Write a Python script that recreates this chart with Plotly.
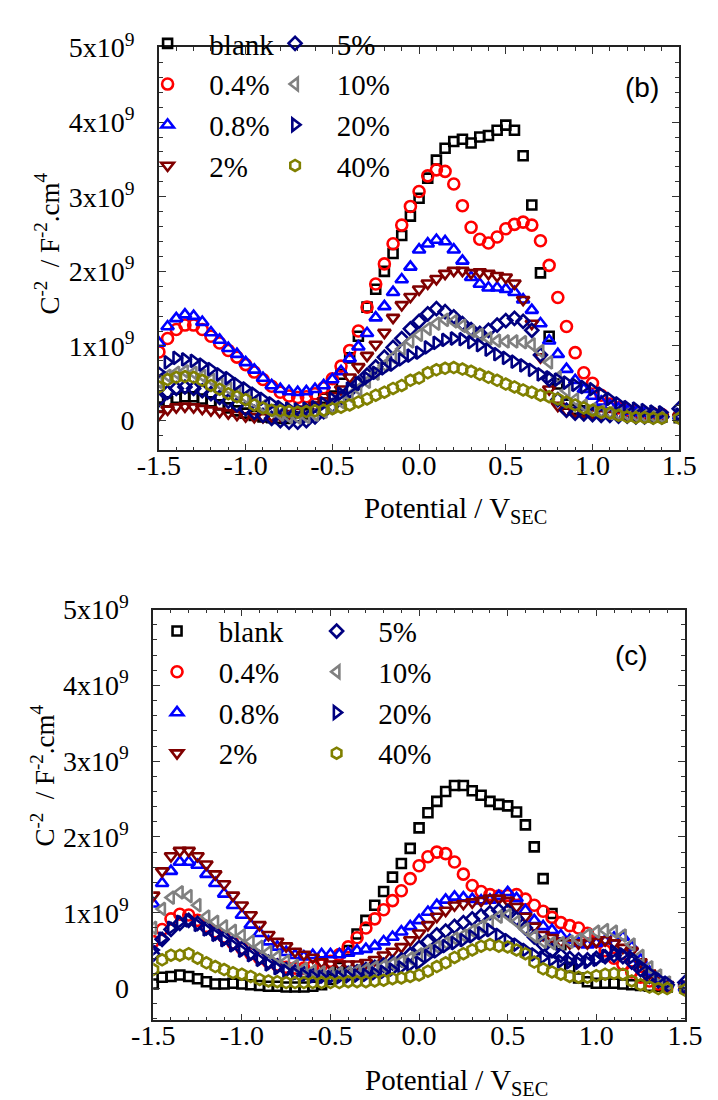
import plotly.graph_objects as go

# Sampling potentials (V vs SCE)
potential = [-1.5, -1.45, -1.4, -1.35, -1.3, -1.25, -1.2, -1.15, -1.1, -1.05,
             -1.0, -0.95, -0.9, -0.85, -0.8, -0.75, -0.7, -0.65, -0.6, -0.55,
             -0.5, -0.45, -0.4, -0.35, -0.3, -0.25, -0.2, -0.15, -0.1, -0.05,
             0.0, 0.05, 0.1, 0.15, 0.2, 0.25, 0.3, 0.35, 0.4, 0.45,
             0.5, 0.55, 0.6, 0.65, 0.7, 0.75, 0.8, 0.85, 0.9, 0.95,
             1.0, 1.05, 1.1, 1.15, 1.2, 1.25, 1.3, 1.35, 1.4, 1.5]

labels = ["blank", "0.4%", "0.8%", "2%", "5%", "10%", "20%", "40%"]

# ---- panel (b): C^-2 in units of 1e9 F^-2 cm^4 ----
b_blank = [0.18, 0.25, 0.30, 0.32, 0.32, 0.29, 0.25, 0.21, 0.17, 0.13,
           0.10, 0.07, 0.05, 0.04, 0.03, 0.03, 0.05, 0.09, 0.18, 0.30,
           0.45, 0.62, 0.84, 1.13, 1.52, 1.76, 2.00, 2.24, 2.48, 2.74,
           2.98, 3.25, 3.49, 3.65, 3.74, 3.77, 3.72, 3.80, 3.82, 3.89,
           3.96, 3.89, 3.55, 2.89, 1.98, 1.13, 0.49, 0.22, 0.15, 0.13,
           0.12, 0.11, 0.10, 0.09, 0.08, 0.07, 0.06, 0.05, 0.05, 0.04]
b_04 = [0.92, 1.10, 1.22, 1.28, 1.28, 1.22, 1.13, 1.04, 0.94, 0.85,
        0.75, 0.65, 0.55, 0.46, 0.38, 0.33, 0.31, 0.32, 0.36, 0.44,
        0.56, 0.73, 0.94, 1.20, 1.52, 1.83, 2.10, 2.37, 2.62, 2.87,
        3.07, 3.28, 3.36, 3.34, 3.17, 2.88, 2.59, 2.43, 2.38, 2.46,
        2.57, 2.63, 2.66, 2.62, 2.41, 2.08, 1.65, 1.26, 0.91, 0.64,
        0.50, 0.34, 0.22, 0.17, 0.14, 0.12, 0.10, 0.09, 0.08, 0.06]
b_08 = [1.04, 1.26, 1.37, 1.42, 1.40, 1.32, 1.18, 1.08, 0.97, 0.89,
        0.78, 0.68, 0.57, 0.47, 0.42, 0.39, 0.38, 0.39, 0.42, 0.47,
        0.55, 0.66, 0.83, 0.99, 1.17, 1.38, 1.53, 1.72, 1.89, 2.06,
        2.29, 2.37, 2.42, 2.40, 2.29, 2.14, 1.92, 1.83, 1.78, 1.78,
        1.76, 1.72, 1.62, 1.48, 1.30, 1.07, 0.89, 0.69, 0.54, 0.42,
        0.33, 0.25, 0.20, 0.16, 0.13, 0.11, 0.10, 0.09, 0.08, 0.06]
b_2 = [0.08, 0.15, 0.18, 0.19, 0.18, 0.16, 0.14, 0.12, 0.10, 0.08,
       0.06, 0.05, 0.05, 0.06, 0.07, 0.09, 0.12, 0.15, 0.20, 0.26,
       0.33, 0.42, 0.58, 0.72, 0.87, 1.02, 1.18, 1.38, 1.55, 1.66,
       1.76, 1.84, 1.90, 1.97, 2.01, 2.01, 1.98, 1.99, 1.97, 1.94,
       1.92, 1.84, 1.62, 1.30, 0.85, 0.42, 0.20, 0.13, 0.12, 0.11,
       0.10, 0.09, 0.08, 0.08, 0.07, 0.07, 0.06, 0.06, 0.05, 0.05]
b_5 = [0.28, 0.38, 0.43, 0.45, 0.43, 0.40, 0.36, 0.31, 0.26, 0.21,
       0.16, 0.11, 0.07, 0.03, 0.00, -0.02, -0.02, 0.00, 0.05, 0.12,
       0.20, 0.30, 0.40, 0.50, 0.61, 0.72, 0.85, 0.98, 1.10, 1.23,
       1.33, 1.43, 1.50, 1.46, 1.39, 1.30, 1.22, 1.17, 1.21, 1.28,
       1.34, 1.37, 1.33, 1.21, 0.88, 0.55, 0.28, 0.14, 0.10, 0.09,
       0.08, 0.07, 0.07, 0.06, 0.06, 0.05, 0.05, 0.05, 0.05, 0.16]
b_10 = [0.52, 0.60, 0.64, 0.66, 0.64, 0.60, 0.55, 0.49, 0.43, 0.37,
        0.31, 0.25, 0.19, 0.13, 0.08, 0.05, 0.04, 0.05, 0.08, 0.12,
        0.18, 0.25, 0.33, 0.42, 0.52, 0.63, 0.74, 0.85, 0.96, 1.06,
        1.15, 1.23, 1.30, 1.35, 1.33, 1.27, 1.20, 1.15, 1.10, 1.07,
        1.06, 1.06, 1.05, 1.02, 0.93, 0.78, 0.58, 0.40, 0.28, 0.20,
        0.15, 0.12, 0.10, 0.09, 0.08, 0.07, 0.06, 0.06, 0.05, 0.05]
b_20 = [0.65, 0.78, 0.84, 0.82, 0.80, 0.75, 0.69, 0.62, 0.57, 0.49,
        0.43, 0.36, 0.29, 0.23, 0.18, 0.16, 0.15, 0.16, 0.18, 0.23,
        0.29, 0.36, 0.43, 0.50, 0.57, 0.64, 0.70, 0.75, 0.82, 0.87,
        0.91, 0.98, 1.04, 1.08, 1.10, 1.09, 1.05, 1.01, 0.95, 0.89,
        0.84, 0.79, 0.74, 0.68, 0.62, 0.58, 0.55, 0.51, 0.48, 0.45,
        0.42, 0.36, 0.29, 0.23, 0.18, 0.16, 0.14, 0.12, 0.11, 0.08]
b_40 = [0.45, 0.55, 0.58, 0.59, 0.58, 0.54, 0.47, 0.42, 0.36, 0.32,
        0.28, 0.21, 0.17, 0.14, 0.13, 0.12, 0.11, 0.12, 0.13, 0.14,
        0.16, 0.18, 0.21, 0.25, 0.29, 0.34, 0.38, 0.43, 0.47, 0.54,
        0.57, 0.64, 0.68, 0.70, 0.71, 0.69, 0.66, 0.62, 0.58, 0.54,
        0.49, 0.45, 0.41, 0.38, 0.34, 0.32, 0.29, 0.25, 0.21, 0.17,
        0.14, 0.11, 0.10, 0.07, 0.05, 0.04, 0.04, 0.03, 0.03, 0.03]

# ---- panel (c) ----
c_blank = [0.06, 0.15, 0.16, 0.18, 0.16, 0.13, 0.09, 0.06, 0.06, 0.07,
           0.06, 0.05, 0.04, 0.03, 0.03, 0.02, 0.02, 0.02, 0.03, 0.05,
           0.12, 0.28, 0.50, 0.72, 0.90, 1.10, 1.28, 1.47, 1.65, 1.85,
           2.12, 2.32, 2.47, 2.60, 2.68, 2.68, 2.61, 2.55, 2.47, 2.43,
           2.41, 2.33, 2.16, 1.87, 1.45, 0.99, 0.58, 0.28, 0.14, 0.09,
           0.07, 0.07, 0.07, 0.06, 0.05, 0.04, 0.03, 0.03, 0.02, 0.02]
c_04 = [0.62, 0.78, 0.92, 0.98, 0.97, 0.90, 0.82, 0.75, 0.68, 0.60,
        0.53, 0.46, 0.40, 0.35, 0.31, 0.28, 0.27, 0.27, 0.29, 0.31,
        0.36, 0.45, 0.55, 0.67, 0.80, 0.92, 1.04, 1.16, 1.29, 1.45,
        1.62, 1.74, 1.80, 1.78, 1.67, 1.51, 1.36, 1.28, 1.24, 1.22,
        1.23, 1.24, 1.18, 1.10, 1.02, 0.94, 0.87, 0.83, 0.80, 0.73,
        0.62, 0.50, 0.40, 0.32, 0.22, 0.15, 0.10, 0.06, 0.03, 0.02]
c_08 = [1.12, 1.39, 1.55, 1.67, 1.67, 1.63, 1.51, 1.39, 1.25, 1.10,
        0.97, 0.84, 0.73, 0.62, 0.55, 0.48, 0.44, 0.42, 0.44, 0.45,
        0.45, 0.45, 0.47, 0.50, 0.52, 0.56, 0.62, 0.68, 0.75, 0.82,
        0.90, 1.01, 1.10, 1.17, 1.21, 1.20, 1.18, 1.16, 1.17, 1.22,
        1.27, 1.19, 1.03, 0.90, 0.82, 0.77, 0.70, 0.64, 0.60, 0.58,
        0.60, 0.63, 0.67, 0.68, 0.55, 0.38, 0.22, 0.12, 0.06, 0.01]
c_2 = [1.23, 1.55, 1.75, 1.82, 1.82, 1.75, 1.64, 1.51, 1.38, 1.23,
       1.10, 0.97, 0.84, 0.71, 0.62, 0.56, 0.49, 0.45, 0.41, 0.35,
       0.32, 0.32, 0.32, 0.32, 0.34, 0.38, 0.44, 0.49, 0.55, 0.64,
       0.73, 0.84, 0.95, 1.03, 1.10, 1.12, 1.14, 1.16, 1.19, 1.19,
       1.16, 1.08, 0.95, 0.82, 0.71, 0.67, 0.62, 0.60, 0.60, 0.60,
       0.62, 0.64, 0.60, 0.54, 0.50, 0.35, 0.20, 0.10, 0.05, 0.02]
c_5 = [0.45, 0.65, 0.78, 0.86, 0.90, 0.86, 0.80, 0.73, 0.67, 0.60,
       0.53, 0.47, 0.41, 0.35, 0.30, 0.25, 0.22, 0.20, 0.18, 0.17,
       0.17, 0.18, 0.20, 0.22, 0.25, 0.28, 0.31, 0.34, 0.38, 0.45,
       0.54, 0.62, 0.71, 0.76, 0.82, 0.87, 0.92, 0.96, 1.00, 1.03,
       1.02, 0.92, 0.80, 0.68, 0.58, 0.50, 0.44, 0.40, 0.38, 0.38,
       0.40, 0.42, 0.44, 0.42, 0.35, 0.25, 0.16, 0.10, 0.05, 0.08]
c_10 = [0.80, 1.05, 1.20, 1.27, 1.22, 1.10, 0.95, 0.88, 0.82, 0.76,
        0.70, 0.62, 0.55, 0.48, 0.42, 0.36, 0.30, 0.26, 0.23, 0.21,
        0.20, 0.20, 0.21, 0.23, 0.25, 0.28, 0.30, 0.33, 0.36, 0.40,
        0.45, 0.50, 0.55, 0.60, 0.66, 0.70, 0.76, 0.82, 0.88, 0.95,
        0.97, 0.88, 0.78, 0.69, 0.62, 0.60, 0.60, 0.62, 0.65, 0.71,
        0.75, 0.77, 0.75, 0.70, 0.58, 0.43, 0.28, 0.17, 0.08, 0.03]
c_20 = [0.51, 0.66, 0.80, 0.88, 0.90, 0.84, 0.78, 0.71, 0.64, 0.57,
        0.50, 0.44, 0.38, 0.32, 0.27, 0.23, 0.20, 0.18, 0.16, 0.15,
        0.15, 0.15, 0.16, 0.17, 0.18, 0.20, 0.22, 0.25, 0.28, 0.31,
        0.34, 0.43, 0.49, 0.56, 0.60, 0.64, 0.69, 0.73, 0.77, 0.71,
        0.64, 0.58, 0.51, 0.45, 0.41, 0.38, 0.36, 0.35, 0.34, 0.35,
        0.38, 0.43, 0.49, 0.45, 0.41, 0.30, 0.21, 0.13, 0.08, 0.02]
c_40 = [0.25, 0.38, 0.44, 0.44, 0.46, 0.40, 0.34, 0.29, 0.25, 0.21,
        0.19, 0.16, 0.12, 0.10, 0.09, 0.08, 0.08, 0.08, 0.08, 0.08,
        0.08, 0.08, 0.09, 0.09, 0.09, 0.10, 0.11, 0.13, 0.14, 0.16,
        0.18, 0.23, 0.29, 0.34, 0.41, 0.46, 0.51, 0.56, 0.58, 0.56,
        0.55, 0.51, 0.46, 0.35, 0.26, 0.22, 0.19, 0.16, 0.15, 0.15,
        0.17, 0.19, 0.20, 0.19, 0.10, 0.05, 0.02, 0.00, 0.00, -0.02]

panel_b = [b_blank, b_04, b_08, b_2, b_5, b_10, b_20, b_40]
panel_c = [c_blank, c_04, c_08, c_2, c_5, c_10, c_20, c_40]

symbols = ["square-open", "circle-open", "triangle-up-open", "triangle-down-open",
           "diamond-open", "triangle-left-open", "triangle-right-open", "hexagon-open"]
colors = ["#000000", "#FF0000", "#0000FF", "#800000",
          "#000080", "#808080", "#000080", "#808000"]
sizes = [9, 11, 11, 11, 10, 11, 11, 11]

W, H = 718, 1100
SERIF = "Times New Roman, Liberation Serif, serif"
SANS = "Arial, Liberation Sans, sans-serif"
GAP = "\u00a0\u00a0\u00a0"

fig = go.Figure()

panels = [("x", "y", panel_b, ("legend", "legend2")),
          ("x2", "y2", panel_c, ("legend3", "legend4"))]
for xa, ya, data, legs in panels:
    for k, vals in enumerate(data):
        fig.add_trace(go.Scatter(
            x=potential, y=[v * 1e9 for v in vals],
            xaxis=xa, yaxis=ya, mode="markers",
            name=GAP + labels[k],
            legend=legs[0] if k < 4 else legs[1],
            marker=dict(symbol=symbols[k], size=sizes[k], color=colors[k],
                        line=dict(width=2.6, color=colors[k])),
        ))


def px_x(p):
    return p / W


def px_y(p):
    return 1 - p / H


ytickvals = [0, 1e9, 2e9, 3e9, 4e9, 5e9]
yticktext = ["0"] + ["%dx10<sup>9</sup>" % i for i in range(1, 6)]
xtickvals = [-1.5, -1.0, -0.5, 0.0, 0.5, 1.0, 1.5]
xticktext = ["-1.5", "-1.0", "-0.5", "0.0", "0.5", "1.0", "1.5"]

axis_common = dict(
    showgrid=False, zeroline=False, showline=True, linecolor="#222222",
    linewidth=1.5, mirror="allticks", ticks="inside", ticklen=7,
    tickwidth=1.2, tickcolor="#333333",
    tickfont=dict(family=SERIF, size=28, color="black"),
)

def xaxis(dom, anchor):
    return dict(axis_common, domain=dom, anchor=anchor, range=[-1.5, 1.5],
                tickvals=xtickvals, ticktext=xticktext,
                minor=dict(dtick=0.1, ticks="inside", ticklen=4,
                           tickcolor="#333333", tickwidth=1),
                ticklabelstandoff=-11)

def yaxis(dom, anchor, rng):
    return dict(axis_common, domain=dom, anchor=anchor, range=rng,
                tickvals=ytickvals, ticktext=yticktext,
                minor=dict(dtick=0.2e9, ticks="inside", ticklen=4,
                           tickcolor="#333333", tickwidth=1),
                ticklabelstandoff=17)

legend_common = dict(
    xanchor="left", yanchor="top", bgcolor="rgba(0,0,0,0)",
    font=dict(family=SERIF, size=29, color="black"),
    tracegroupgap=0, itemsizing="trace", borderwidth=0,
)

fig.update_layout(
    width=W, height=H,
    margin=dict(l=0, r=0, t=0, b=0),
    paper_bgcolor="white", plot_bgcolor="white",
    xaxis=xaxis([px_x(145), px_x(696)], "y"),
    yaxis=yaxis([px_y(439), px_y(29)], "x", [-0.4e9, 5e9]),
    xaxis2=xaxis([px_x(139), px_x(702)], "y2"),
    yaxis2=yaxis([px_y(1019), px_y(601)], "x2", [-0.42e9, 5e9]),
    legend=dict(legend_common, x=px_x(133), y=px_y(-1)),
    legend2=dict(legend_common, x=px_x(268), y=px_y(-1)),
    legend3=dict(legend_common, x=px_x(143), y=px_y(597)),
    legend4=dict(legend_common, x=px_x(312), y=px_y(597)),
)

ytitle = "C<sup>-2</sup>  / F<sup>-2</sup>.cm<sup>4</sup>"
xtitle = "Potential / V<sub>SEC</sub>"
notes = [
    dict(text=ytitle, x=px_x(27), y=px_y(228), textangle=-90, size=27, family=SERIF),
    dict(text=xtitle, x=px_x(459), y=px_y(500), textangle=0, size=29, family=SERIF),
    dict(text="(b)", x=px_x(657), y=px_y(70), textangle=0, size=28, family=SANS),
    dict(text=ytitle, x=px_x(22), y=px_y(770), textangle=-90, size=27, family=SERIF),
    dict(text=xtitle, x=px_x(460), y=px_y(1082), textangle=0, size=29, family=SERIF),
    dict(text="(c)", x=px_x(645), y=px_y(648), textangle=0, size=28, family=SANS),
]
for n in notes:
    fig.add_annotation(text=n["text"], x=n["x"], y=n["y"], xref="paper", yref="paper",
                       xanchor="center", yanchor="middle", showarrow=False,
                       textangle=n["textangle"],
                       font=dict(family=n["family"], size=n["size"], color="black"))

fig.write_html("out.html")
